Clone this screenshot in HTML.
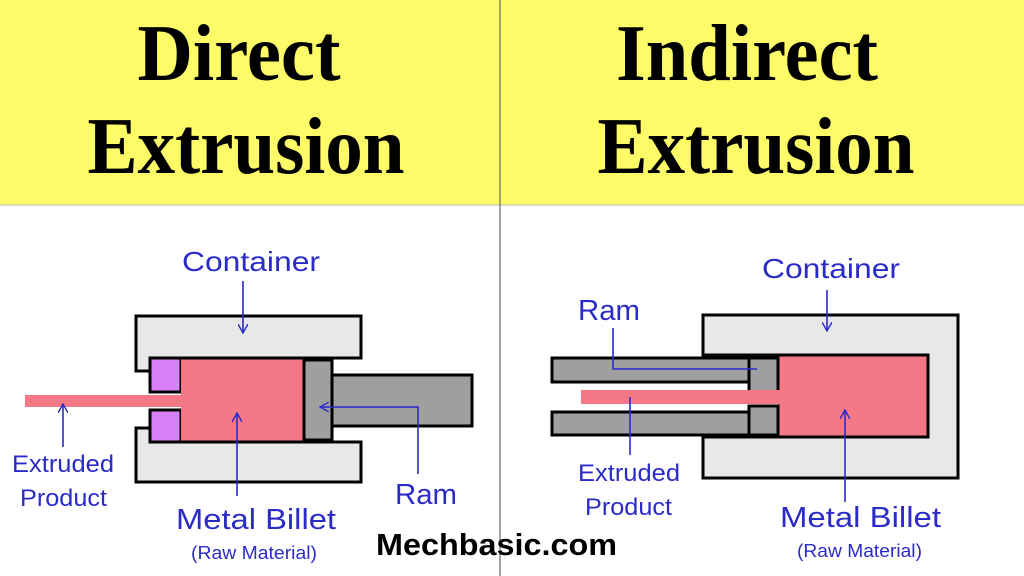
<!DOCTYPE html>
<html><head><meta charset="utf-8"><style>
html,body{margin:0;padding:0;background:#fff}
svg{display:block}
.t{font-family:"Liberation Serif",serif;font-weight:bold;fill:#000}
.l{font-family:"Liberation Sans",sans-serif;fill:#2b2bc8}
</style></head><body>
<svg width="1024" height="576" viewBox="0 0 1024 576" xmlns="http://www.w3.org/2000/svg">
<defs><marker id="a" viewBox="0 0 10 10" refX="9" refY="5" markerWidth="10" markerHeight="10" markerUnits="userSpaceOnUse" orient="auto"><path d="M0,0 L9,5 L0,10" fill="none" stroke="#2b2bc8" stroke-width="1.4"/></marker></defs>
<rect x="0" y="0" width="1024" height="205" fill="#fdfb68"/>
<line x1="0" y1="205" x2="1024" y2="205" stroke="#bbb" stroke-width="1"/>
<line x1="500" y1="0" x2="500" y2="576" stroke="#666" stroke-width="1.2"/>
<text class="t" x="239" y="80" font-size="80" text-anchor="middle" textLength="203" lengthAdjust="spacingAndGlyphs">Direct</text>
<text class="t" x="246" y="173" font-size="80" text-anchor="middle" textLength="317" lengthAdjust="spacingAndGlyphs">Extrusion</text>
<text class="t" x="747" y="80" font-size="80" text-anchor="middle" textLength="262" lengthAdjust="spacingAndGlyphs">Indirect</text>
<text class="t" x="756" y="173" font-size="80" text-anchor="middle" textLength="317" lengthAdjust="spacingAndGlyphs">Extrusion</text>

<!-- left diagram -->
<g stroke="#000" stroke-width="3">
<path d="M136,316 H361 V358 H150 V371 H136 Z" fill="#e8e8e8"/>
<path d="M136,428 H150 V442 H361 V482 H136 Z" fill="#e8e8e8"/>
<rect x="150" y="358" width="31" height="34" fill="#d880f5"/>
<rect x="150" y="410" width="31" height="32" fill="#d880f5"/>
<rect x="181" y="358" width="123" height="84" fill="#f47886" stroke="none"/>
<path d="M150,358 H304 M150,442 H304" fill="none"/>
<rect x="332" y="375" width="140" height="51" fill="#9f9f9f"/>
<rect x="304" y="360" width="28" height="80" fill="#9f9f9f"/>
</g>
<rect x="25" y="395" width="158" height="12" fill="#f47886"/>
<g stroke="#2b2bc8" stroke-width="1.6" fill="none">
<line x1="243" y1="281" x2="243" y2="333" marker-end="url(#a)"/>
<line x1="63" y1="447" x2="63" y2="404" marker-end="url(#a)"/>
<line x1="237" y1="496" x2="237" y2="413" marker-end="url(#a)"/>
<polyline points="418,474 418,407 320,407" marker-end="url(#a)"/>
</g>
<text class="l" x="182" y="271" font-size="28" textLength="138" lengthAdjust="spacingAndGlyphs">Container</text>
<text class="l" x="12" y="472" font-size="24" textLength="102" lengthAdjust="spacingAndGlyphs">Extruded</text>
<text class="l" x="20" y="506" font-size="24" textLength="87" lengthAdjust="spacingAndGlyphs">Product</text>
<text class="l" x="176" y="529" font-size="29" textLength="160" lengthAdjust="spacingAndGlyphs">Metal Billet</text>
<text class="l" x="191" y="559" font-size="18" textLength="126" lengthAdjust="spacingAndGlyphs">(Raw Material)</text>
<text class="l" x="395" y="504" font-size="29" textLength="62" lengthAdjust="spacingAndGlyphs">Ram</text>

<!-- right diagram -->
<g stroke="#000" stroke-width="3">
<path d="M703,315 H958 V478 H703 V437 H928 V355 H703 Z" fill="#e8e8e8"/>
<rect x="778" y="355" width="150" height="82" fill="#f47886" stroke="none"/>
<path d="M778,355 H928 V437 H778" fill="none"/>
<rect x="552" y="358" width="197" height="24" fill="#9f9f9f"/>
<rect x="749" y="358" width="29" height="34" fill="#9f9f9f"/>
<rect x="552" y="412" width="197" height="23" fill="#9f9f9f"/>
<rect x="749" y="406" width="29" height="29" fill="#9f9f9f"/>
</g>
<rect x="581" y="390" width="199" height="14" fill="#f47886"/>
<g stroke="#2b2bc8" stroke-width="1.6" fill="none">
<line x1="827" y1="290" x2="827" y2="331" marker-end="url(#a)"/>
<polyline points="613,328 613,369 757,369"/>
<line x1="630" y1="397" x2="630" y2="455"/>
<line x1="845" y1="502" x2="845" y2="410" marker-end="url(#a)"/>
</g>
<text class="l" x="762" y="278" font-size="28" textLength="138" lengthAdjust="spacingAndGlyphs">Container</text>
<text class="l" x="578" y="320" font-size="29" textLength="62" lengthAdjust="spacingAndGlyphs">Ram</text>
<text class="l" x="578" y="481" font-size="24" textLength="102" lengthAdjust="spacingAndGlyphs">Extruded</text>
<text class="l" x="585" y="515" font-size="24" textLength="87" lengthAdjust="spacingAndGlyphs">Product</text>
<text class="l" x="780" y="527" font-size="29" textLength="161" lengthAdjust="spacingAndGlyphs">Metal Billet</text>
<text class="l" x="797" y="557" font-size="18" textLength="125" lengthAdjust="spacingAndGlyphs">(Raw Material)</text>

<text x="376" y="555" font-family="Liberation Sans, sans-serif" font-weight="bold" font-size="31" fill="#000" textLength="241" lengthAdjust="spacingAndGlyphs">Mechbasic.com</text>
</svg>
</body></html>
